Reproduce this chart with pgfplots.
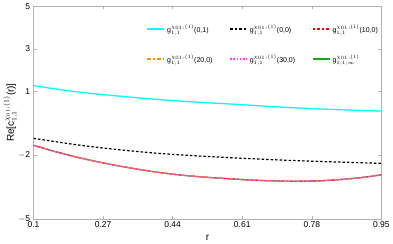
\documentclass[border=0pt]{standalone}
\usepackage{pgfplots}
\pgfplotsset{compat=1.18}
\usepackage{fontspec}
\setmainfont{Liberation Sans}
\definecolor{cCyan}{RGB}{0,255,255}
\definecolor{cRed}{RGB}{255,0,0}
\definecolor{cGreen}{RGB}{20,170,20}
\definecolor{cOrange}{RGB}{255,140,0}
\definecolor{cMag}{RGB}{255,60,255}
\pgfplotstableread{
r v
0.10 -1.54
0.15 -1.82
0.20 -2.07
0.25 -2.29
0.30 -2.48
0.35 -2.65
0.40 -2.80
0.45 -2.92
0.50 -3.01
0.55 -3.08
0.60 -3.14
0.65 -3.19
0.70 -3.22
0.75 -3.23
0.80 -3.21
0.85 -3.15
0.90 -3.06
0.95 -2.93
}\lowdata
\tikzset{
  sCyan/.style={color=cCyan, line width=1.3pt},
  sBlack/.style={color=black, line width=1.2pt, dash pattern=on 2.5pt off 2pt},
  sRed/.style={color=cRed, line width=1.1pt, dash pattern=on 2.5pt off 2pt},
  sOrange/.style={color=cOrange, line width=1.3pt, dash pattern=on 4pt off 2pt on 1.5pt off 2pt},
  sMag/.style={color=cMag, line width=1.3pt, dash pattern=on 1.6pt off 1.6pt},
  sGreen/.style={color=cGreen, line width=1.3pt},
}
\begin{document}
\begin{tikzpicture}
\begin{axis}[
  width=347bp, height=212bp, scale only axis,
  xmin=0.1, xmax=0.95, ymin=-5, ymax=5,
  xtick={0.1,0.27,0.44,0.61,0.78,0.95},
  xticklabels={0.1,0.27,0.44,0.61,0.78,0.95},
  ytick={-5,-2,1,3,5},
  yticklabels={$-$5,$-$2,1,3,5},
  tick align=inside,
  tick style={gray!60, line width=0.5pt},
  major tick length=3pt,
  axis line style={gray!60, line width=0.6pt},
  ticklabel style={font=\fontsize{8.5}{9}\selectfont},
  xticklabel style={yshift=1pt},
  /pgf/number format/assume math mode=true,
  xlabel={r},
  ylabel={Re[c$^{\chi_{01},(1)}_{1,1}$(r)]},
  xlabel style={font=\fontsize{10}{11}\selectfont, yshift=-1pt},
  ylabel style={font=\fontsize{10}{11}\selectfont, yshift=-6pt},
  legend columns=3,
  legend style={at={(0.325,0.925)}, anchor=north west, draw=none, fill=none,
    font=\fontsize{7}{8}\selectfont, /tikz/every even column/.append style={column sep=15pt},
    row sep=17pt, inner sep=0pt},
  legend cell align=left,
]
\addplot[sGreen, line width=1.2pt, smooth, forget plot] table[x=r,y=v] {\lowdata};
\addplot[sCyan, smooth, forget plot] coordinates {
(0.1,1.27)(0.15,1.12)(0.2,0.99)(0.25,0.88)(0.3,0.79)(0.4,0.62)(0.5,0.49)(0.6,0.38)(0.7,0.26)(0.8,0.17)(0.9,0.10)(0.95,0.07)};
\addplot[sBlack, smooth, forget plot] coordinates {
(0.1,-1.21)(0.2,-1.50)(0.3,-1.73)(0.4,-1.91)(0.5,-2.04)(0.6,-2.14)(0.7,-2.23)(0.8,-2.30)(0.9,-2.36)(0.95,-2.39)};
\addplot[sRed, smooth, forget plot] table[x=r,y=v] {\lowdata};
\addplot[sOrange, smooth, forget plot] table[x=r,y=v] {\lowdata};
\addplot[sMag, smooth, forget plot] table[x=r,y=v] {\lowdata};
\addlegendimage{sCyan}
\addlegendentry{g$^{\chi_{01},(1)}_{1,1}$(0,1)}
\addlegendimage{sBlack}
\addlegendentry{g$^{\chi_{01},(1)}_{1,1}$(0,0)}
\addlegendimage{sRed}
\addlegendentry{g$^{\chi_{01},(1)}_{1,1}$(10,0)}
\addlegendimage{sOrange}
\addlegendentry{g$^{\chi_{01},(1)}_{1,1}$(20,0)}
\addlegendimage{sMag}
\addlegendentry{g$^{\chi_{01},(1)}_{1,1}$(30,0)}
\addlegendimage{sGreen}
\addlegendentry{g$^{\chi_{01},(1)}_{1,1;\infty}$}
\end{axis}
\end{tikzpicture}
\end{document}
